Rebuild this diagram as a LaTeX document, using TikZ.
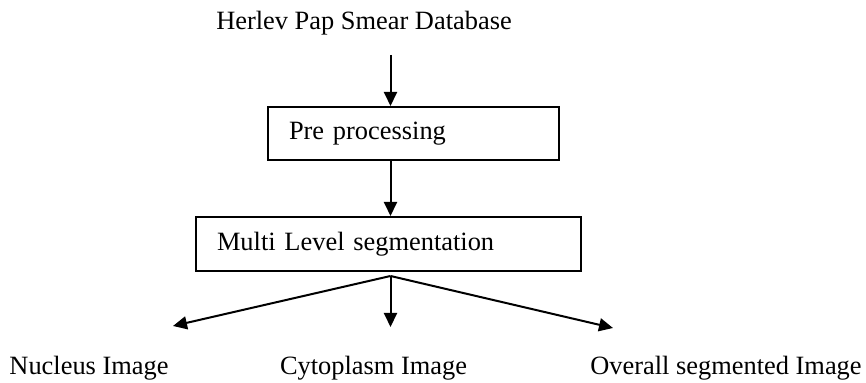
\documentclass[tikz,border=0pt]{standalone}
\usepackage{fontspec}
\setmainfont{Liberation Serif}
\usetikzlibrary{arrows.meta}
\tikzset{
    stepBox/.style={draw, line width=1pt, align=left, inner xsep=10.5pt, inner ysep=0pt},
    flowArrow/.style={line width=1pt, -{Triangle[length=7pt,width=6.5pt]}},
    label/.style={inner sep=0pt, anchor=base}
}

\begin{document}
\begin{tikzpicture}[x=0.5pt, y=-0.5pt, font=\fontsize{13.2}{15}\selectfont]
			\useasboundingbox (0,0) rectangle (866,383);
			\node[label] (db) at (364,30) {Herlev Pap Smear Database};
			\node[stepBox, text width=124.5pt, minimum height=26.5pt] (pre) at (413.5,133.5) {Pre processing};
			\node[stepBox, text width=171.5pt, minimum height=27pt] (multi) at (388.5,244) {Multi Level segmentation};
			\node[label] (nucleus) at (89,375) {Nucleus Image};
			\node[label] (cyto) at (373.5,375) {Cytoplasm Image};
			\node[label] (overall) at (726,375) {Overall segmented Image};
			\coordinate (spine) at (390.5,55);
			\coordinate (fan) at (390.5,276);
			\coordinate (tipL) at (173,326);
			\coordinate (tipM) at (390.5,327);
			\coordinate (tipR) at (613,328);
			\draw[flowArrow] (spine) -- (spine |- pre.north);
			\draw[flowArrow] (spine |- pre.south) -- (spine |- multi.north);
			\draw[flowArrow] (fan) -- (tipL);
			\draw[flowArrow] (fan) -- (tipM);
			\draw[flowArrow] (fan) -- (tipR);
\end{tikzpicture}
\end{document}
